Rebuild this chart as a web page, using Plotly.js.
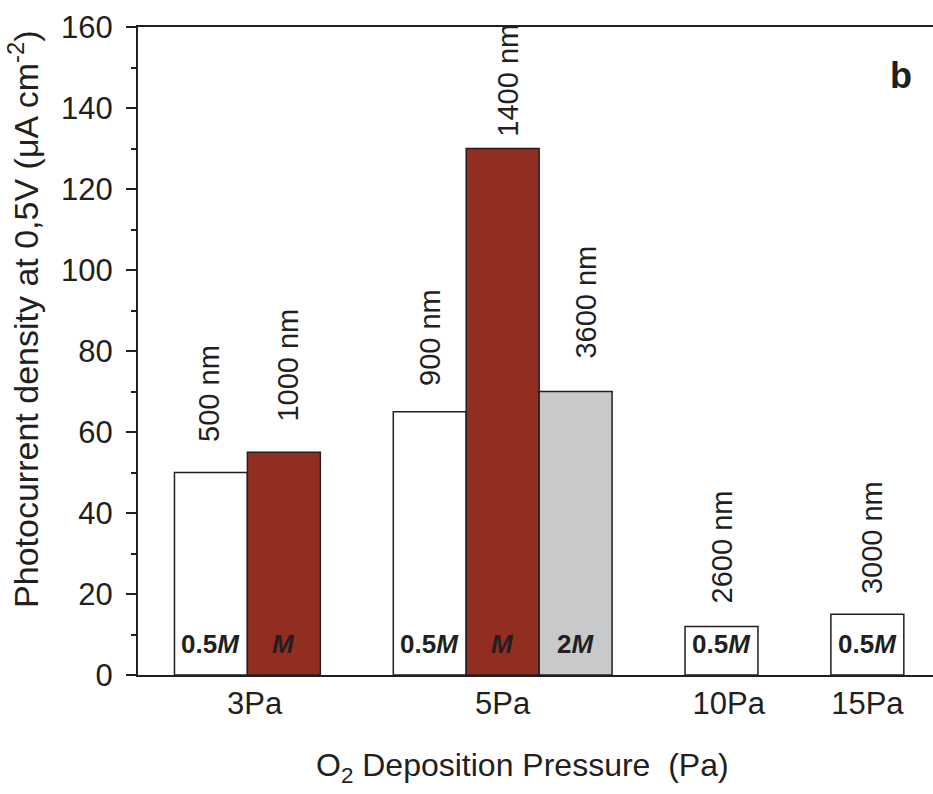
<!DOCTYPE html>
<html>
<head>
<meta charset="utf-8">
<script src="https://cdn.plot.ly/plotly-3.0.1.min.js"></script>
<style>html,body{margin:0;padding:0;background:#fff;}#chart{width:933px;height:794px;}</style>
</head>
<body>
<div id="chart"></div>
<script>
// ---- data ----
const pressures      = ['3Pa', '3Pa', '5Pa', '5Pa', '5Pa', '10Pa', '15Pa'];
const concentrations = ['0.5M', 'M', '0.5M', 'M', '2M', '0.5M', '0.5M'];
const photocurrent   = [50, 55, 65, 130, 70, 12, 15];
const thickness      = ['500 nm', '1000 nm', '900 nm', '1400 nm', '3600 nm', '2600 nm', '3000 nm'];
const tickLabels     = ['3Pa', '5Pa', '10Pa', '15Pa'];

// ---- layout configuration (positions / styles) ----
const slots      = [1, 2, 4, 5, 6, 8, 10];     // bar slot on the x axis
const tickSlots  = [1.6, 5, 8.1, 10];          // where the pressure labels sit
const labelLift  = [29, 29, 24, 10, 31, 21, 18];
const labelNudge = [-2, 4, 1, 5, 10, 0, 4];
const fillFor = {'0.5M': '#FFFFFF', 'M': '#922D21', '2M': '#C8C9CB'};
const ink = '#231F20';
const FONT = 'Liberation Sans, Arial, Helvetica, sans-serif';

const traces = Object.keys(fillFor).map(c => {
  const idx = concentrations.map((v, i) => v === c ? i : -1).filter(i => i >= 0);
  return {
    type: 'bar',
    name: c,
    x: idx.map(i => slots[i]),
    y: idx.map(i => photocurrent[i]),
    width: 1,
    marker: {color: fillFor[c], line: {color: ink, width: 1.5}},
    hoverinfo: 'x+y',
    showlegend: false
  };
});

const annotations = [];
photocurrent.forEach((v, i) => {
  annotations.push({
    x: slots[i], y: v, xref: 'x', yref: 'y',
    text: thickness[i], textangle: -90, showarrow: false,
    xanchor: 'center', yanchor: 'bottom', yshift: labelLift[i], xshift: labelNudge[i],
    font: {family: FONT, size: 29, color: ink}
  });
  const c = concentrations[i];
  const txt = c === 'M' ? '<b><i>M</i></b>' : '<b>' + c.replace('M', '') + '<i>M</i></b>';
  annotations.push({
    x: slots[i], y: 0, xref: 'x', yref: 'y',
    text: txt, showarrow: false,
    xanchor: 'center', yanchor: 'middle', yshift: 31,
    font: {family: FONT, size: 26, color: ink}
  });
});
// axis titles
annotations.push({
  xref: 'paper', yref: 'paper', x: 0, y: 0.548, xshift: -114,
  xanchor: 'center', yanchor: 'middle', textangle: -90, showarrow: false,
  text: 'Photocurrent density at 0,5V (μA cm<sup>-2</sup>)',
  font: {family: FONT, size: 34, color: ink}
});
annotations.push({
  xref: 'paper', yref: 'paper', x: 0.4836, y: 0, yshift: -92,
  xanchor: 'center', yanchor: 'middle', showarrow: false,
  text: 'O<sub>2</sub> Deposition Pressure  (Pa)',
  font: {family: FONT, size: 32, color: ink}
});
// panel letter
annotations.push({
  xref: 'paper', yref: 'paper', x: 0.9597, y: 0.9244,
  xanchor: 'center', yanchor: 'middle', showarrow: false,
  text: '<b>b</b>', font: {family: FONT, size: 36, color: ink}
});

const layout = {
  width: 933, height: 794,
  margin: {l: 138, r: 0, t: 27, b: 119},
  paper_bgcolor: '#fff', plot_bgcolor: '#fff',
  font: {family: FONT, color: ink},
  barmode: 'overlay',
  showlegend: false,
  xaxis: {
    type: 'linear', range: [0, 10.9],
    tickmode: 'array', tickvals: tickSlots, ticktext: tickLabels,
    ticks: '', showgrid: false, zeroline: false,
    showline: true, mirror: true, linecolor: ink, linewidth: 2,
    tickfont: {family: FONT, size: 31, color: ink}
  },
  yaxis: {
    range: [0, 160], dtick: 20, tick0: 0,
    ticks: 'outside', ticklen: 10, tickwidth: 2, tickcolor: ink,
    ticklabelstandoff: 7,
    minor: {dtick: 10, ticks: 'outside', ticklen: 5, tickwidth: 2, tickcolor: ink, showgrid: false},
    showgrid: false, zeroline: false,
    showline: true, linecolor: ink, linewidth: 2,
    tickfont: {family: FONT, size: 31, color: ink}
  },
  annotations: annotations
};

Plotly.newPlot('chart', traces, layout, {displayModeBar: false, staticPlot: true});
</script>
</body>
</html>
